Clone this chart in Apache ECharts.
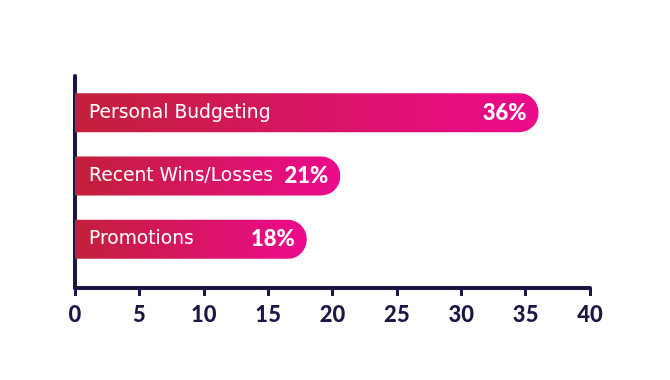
<!DOCTYPE html>
<html><head><meta charset="utf-8">
<script src="https://cdn.jsdelivr.net/npm/echarts@6/dist/echarts.min.js"></script>
<style>html,body{margin:0;padding:0;background:#fff}#c{width:670px;height:380px}</style>
</head><body><div id="c"></div>
<script>
const categories = ['Personal Budgeting', 'Recent Wins/Losses', 'Promotions'];
const values = [36, 20.6, 18];
const valueLabels = ['36%', '21%', '18%'];
const xTicks = [0, 40, 5]; // min, max, interval

const navy = '#1b1644';
const chart = echarts.init(document.getElementById('c'));
const grad = new echarts.graphic.LinearGradient(0, 0, 1, 0, [
  {offset: 0, color: '#c2203a'}, {offset: 1, color: '#ec0a8c'}
]);
chart.setOption({
  animation: false,
  grid: [
    {left: 75, right: 80, top: 81, height: 190},
    {left: 75, right: 80, top: 76, bottom: 92}
  ],
  xAxis: [
    {gridIndex: 0, type: 'value', min: xTicks[0], max: xTicks[1], interval: xTicks[2], show: false},
    {gridIndex: 1, type: 'value', min: xTicks[0], max: xTicks[1], interval: xTicks[2],
      axisLine: {show: true, lineStyle: {color: navy, width: 4}},
      axisTick: {show: true, length: 8, lineStyle: {color: navy, width: 3}},
      splitLine: {show: false},
      axisLabel: {color: navy, fontFamily: 'Lato', fontWeight: 900, fontSize: 22, margin: 16}
    }
  ],
  yAxis: [
    {gridIndex: 0, type: 'category', data: categories, inverse: true, show: false},
    {gridIndex: 1, type: 'value', min: 0, max: 1,
      axisLine: {show: true, lineStyle: {color: navy, width: 4}},
      axisTick: {show: false}, axisLabel: {show: false}, splitLine: {show: false}}
  ],
  series: [
    {type: 'bar', xAxisIndex: 0, yAxisIndex: 0, data: values, barWidth: 39,
      itemStyle: {color: grad, borderRadius: [0, 19, 19, 0]},
      label: {show: true, position: 'insideLeft', distance: 14,
        formatter: p => p.name, color: '#fff', fontFamily: 'DejaVu Sans', fontSize: 18.7}
    },
    {type: 'bar', xAxisIndex: 0, yAxisIndex: 0, data: values, barWidth: 39, barGap: '-100%',
      itemStyle: {color: 'rgba(0,0,0,0)'}, z: 3,
      label: {show: true, position: 'insideRight', distance: 12,
        formatter: p => valueLabels[p.dataIndex], color: '#fff', fontFamily: 'Lato', fontWeight: 900, fontSize: 22}
    }
  ]
});
</script></body></html>
